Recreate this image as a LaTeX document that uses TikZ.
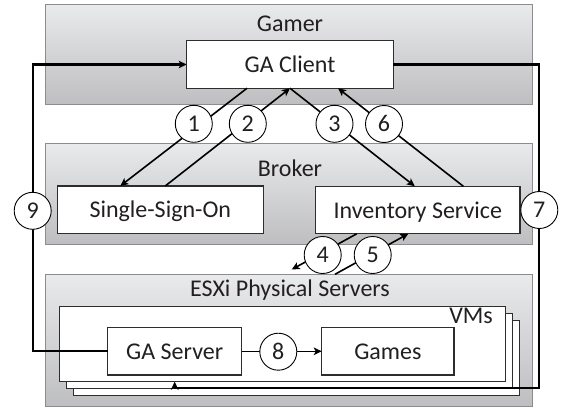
\documentclass[tikz,border=0pt]{standalone}
\usepackage{fontspec}
\setmainfont{Carlito}
\usepackage{tikz}
\usetikzlibrary{positioning,arrows.meta}
\definecolor{colorpaneltop}{RGB}{233,234,236}
\definecolor{colorpanelbot}{RGB}{190,190,192}
\definecolor{colorframe}   {RGB}{140,140,142}
\definecolor{colorbox}     {RGB}{45 ,45 ,45 }
\definecolor{colortext}    {RGB}{35 ,31 ,32 }

\begin{document}
\begin{tikzpicture}[
    x=1pt, y=-1pt,
    font={\fontsize{24}{28}\selectfont},
    panel/.style={draw=colorframe,line width=1pt,top color=colorpaneltop,bottom color=colorpanelbot,inner sep=0pt,outer sep=0pt,minimum width=487pt},
    txt/.style={text=colortext,anchor=base,inner sep=0pt},
    box/.style={draw=colorbox,fill=white,line width=1.2pt,text=colortext,inner sep=0pt,outer sep=0pt,minimum height=47.5pt,text height=16pt,text depth=0pt},
    vmbox/.style={draw=colorbox,fill=white,line width=1pt,inner sep=0pt,outer sep=0pt,minimum width=446pt,minimum height=75pt},
    num/.style={circle,draw=black,fill=white,line width=0.9pt,text=colortext,inner sep=0pt,minimum size=37pt,text height=15pt,text depth=0pt},
    link/.style={line width=1.6pt,-{Stealth[length=8pt,width=7.5pt,inset=2pt]}},
    loop/.style={line width=2.2pt,-{Stealth[length=8pt,width=7.5pt,inset=2pt]}},
]
    \useasboundingbox (0,0) rectangle (570,412);

    % Panels
    \node[panel,minimum height=100.3pt] at (289, 54.8) (gamer) {};
    \node[panel,minimum height=100.7pt] at (289,193.7) (broker) {};
    \node[panel,minimum height=132.4pt] at (289,340.5) (esxi) {};
    \node[txt] at (290, 31.5) (gamerlbl) {Gamer};
    \node[txt] at (290,176.7) (brokerlbl) {Broker};
    \node[txt] at (290,296.7) (esxilbl) {ESXi Physical Servers};

    % VMs
    \node[vmbox] at (296,357.7) (vm3) {};
    \node[vmbox] at (289,351.0) (vm2) {};
    \node[vmbox] at (282,344.2) (vm1) {};
    \node[txt,anchor=base east] at (493,323) (vmlbl) {VMs};

    % Boxes
    \node[box,minimum width=206.6pt] at (290.0, 64.5) (client) {GA Client};
    \node[box,minimum width=206pt]   at (160.3,209.7) (sso) {Single-Sign-On};
    \node[box,minimum width=204.3pt] at (417.8,210.0) (inv) {Inventory Service};
    \node[box,minimum width=134pt]   at (174.7,351.3) (gasrv) {GA Server};
    \node[box,minimum width=132.3pt] at (387.9,351.3) (games) {Games};

    % Requests
    \coordinate (vmin)  at (291.7,269.5);
    \coordinate (vmout) at (335.0,274.3);
    \coordinate (lbend) at ( 32.7, 64.5);
    \coordinate (rbend) at (539.3,388.3);
    \draw[link] ([xshift=-43pt]client.south) -- ([xshift=-40pt]sso.north);
    \draw[link] ([xshift=5pt]sso.north) -- (client.south);
    \draw[link] (client.south) -- ([xshift=-3pt]inv.north);
    \draw[link] ([xshift=45.5pt]inv.north) -- ([xshift=48pt]client.south);
    \draw[link] ([xshift=-61pt]inv.south) -- (vmin);
    \draw[link] (vmout) -- ([xshift=-9.5pt]inv.south);
    \draw[link] (gasrv.east) -- (games.west);
    \draw[loop] (gasrv.west) -| (lbend) -- (client.west);
    \draw[loop] (client.east) -| (rbend) -| (gasrv |- vm1.south);

    % Steps
    \node[num] at (193.8,123.8) (n1) {1};
    \node[num] at (247.8,123.8) (n2) {2};
    \node[num] at (334.5,123.8) (n3) {3};
    \node[num] at (322.7,255.0) (n4) {4};
    \node[num] at (372.7,255.0) (n5) {5};
    \node[num] at (384.0,124.0) (n6) {6};
    \node[num] at (539.3,210.0) (n7) {7};
    \node[num] at (278.3,351.7) (n8) {8};
    \node[num] at ( 32.7,210.8) (n9) {9};

\end{tikzpicture}
\end{document}
